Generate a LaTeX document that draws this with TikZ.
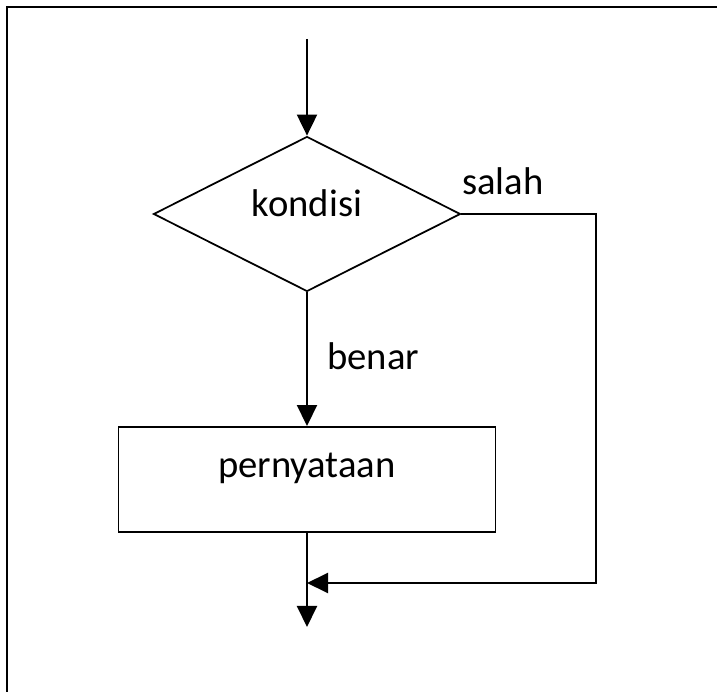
\documentclass[tikz,border=0pt]{standalone}
\usepackage{fontspec}
\setmainfont{Carlito}
\usetikzlibrary{shapes.geometric,arrows.meta}

\tikzset{
    flow/.style={line width=1.1pt, -{Triangle[width=0.4cm,length=0.42cm]}},
    decision/.style={diamond, draw, line width=1pt, inner sep=0pt,
        minimum width=6.14cm, minimum height=3.1cm},
    process/.style={rectangle, draw, line width=1.1pt, inner sep=0pt,
        minimum width=7.54cm, minimum height=2.1cm},
    caption/.style={inner sep=0pt, font=\fontsize{22}{26}\selectfont}
}

\begin{document}
\begin{tikzpicture}
    \useasboundingbox (0,0) rectangle (14.34,13.82);

    % Frame
    \draw[line width=1.2pt] (14.5,13.68) -- (0.14,13.68) -- (0.14,-0.2);

    % Shapes
    \coordinate (start) at (6.14,13.04);
    \node[decision, label={[caption, yshift=0.21cm]center:kondisi}] (kondisi) at (6.14,9.54) {};
    \node[process, label={[caption, yshift=0.22cm]center:pernyataan}] (pernyataan) at (6.14,4.23) {};
    \coordinate (merge) at (6.14,2.16);
    \coordinate (finish) at (6.14,1.28);
    \coordinate (corner1) at (11.92,9.54);
    \coordinate (corner2) at (11.92,2.16);

    % Labels
    \node[caption, anchor=west] (benar) at (6.54,6.69) {benar};
    \node[caption, anchor=west] (salah) at (9.24,10.19) {salah};

    % Connectors
    \draw[flow] (start) -- (kondisi.north);
    \draw[flow] (kondisi.south) -- (pernyataan.north);
    \draw[flow] (pernyataan.south) -- (finish);
    \draw[flow] (kondisi.east) -- (corner1) -- (corner2) -- (merge);
\end{tikzpicture}
\end{document}
